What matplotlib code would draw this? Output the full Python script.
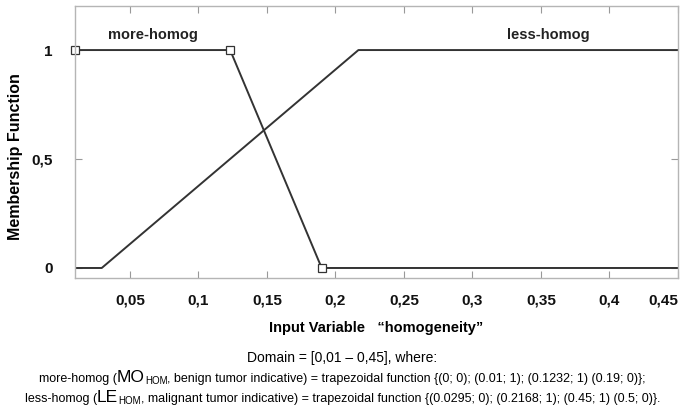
import matplotlib
matplotlib.use('Agg')
import matplotlib.pyplot as plt

# membership functions (x, mu)
more_x = [0.01, 0.1232, 0.19, 0.45]
more_y = [1, 1, 0, 0]
more_mark_x = [0.01, 0.1232, 0.19]
more_mark_y = [1, 1, 0]

less_x = [0.01, 0.0295, 0.2168, 0.45]
less_y = [0, 0, 1, 1]

xticks = [0.05, 0.1, 0.15, 0.2, 0.25, 0.3, 0.35, 0.4, 0.45]
xtick_labels = ['0,05', '0,1', '0,15', '0,2', '0,25', '0,3', '0,35', '0,4', '0,45']
yticks = [0, 0.5, 1]
ytick_labels = ['0', '0,5', '1']

plt.rcParams['font.family'] = ['Liberation Sans', 'DejaVu Sans']

fig = plt.figure(figsize=(6.85, 4.16), dpi=100)
ax = fig.add_axes([0.1095, 0.3317, 0.8803, 0.6538])

lc = '#333333'
ax.plot(more_x, more_y, color=lc, lw=1.4)
ax.plot(less_x, less_y, color=lc, lw=1.4)
ax.plot(more_mark_x, more_mark_y, ls='none', marker='s', ms=6,
        mfc='white', mec=lc, mew=0.9, clip_on=False)

ax.set_xlim(0.01, 0.45)
ax.set_ylim(-0.046, 1.202)

ax.set_xticks(xticks)
ax.set_xticklabels(xtick_labels, fontsize=11, fontweight='bold', color='#111111')
ax.get_xticklabels()[-1].set_horizontalalignment('right')
ax.set_yticks(yticks)
ax.set_yticklabels(ytick_labels, fontsize=11, fontweight='bold', color='#111111')
ax.tick_params(direction='in', length=5, color='#999999', width=0.8,
               top=True, right=True)
ax.tick_params(axis='x', pad=11)
ax.tick_params(axis='y', pad=16)

for s in ax.spines.values():
    s.set_color('#b5b5b5')
    s.set_linewidth(1)

ax.text(0.067, 1.07, 'more-homog', ha='center', va='center',
        fontsize=10.5, fontweight='bold', color='#222222')
ax.text(0.355, 1.07, 'less-homog', ha='center', va='center',
        fontsize=10.5, fontweight='bold', color='#222222')

ax.set_ylabel('Membership Function', fontsize=11.5, fontweight='bold')
ax.yaxis.set_label_coords(-0.086, 0.447)
ax.set_xlabel('Input Variable   \u201chomogeneity\u201d', fontsize=10.5,
              fontweight='bold', labelpad=10)

# caption below the chart
cap_size = 9
fig.text(0.5, 1 - 362 / 416, 'Domain = [0,01 \u2013 0,45], where:',
         ha='center', va='baseline', fontsize=10)

line2 = [('more-homog (', cap_size, 0), ('MO', 12.5, 0), ('HOM', 7, -1.5),
         (', benign tumor indicative) = trapezoidal function '
          '{(0; 0); (0.01; 1); (0.1232; 1) (0.19; 0)};', cap_size, 0)]
line3 = [('less-homog (', cap_size, 0), ('LE', 12.5, 0), ('HOM', 7, -1.5),
         (', malignant tumor indicative) = trapezoidal function '
          '{(0.0295; 0); (0.2168; 1); (0.45; 1) (0.5; 0)}.', cap_size, 0)]

lines = []
for parts, ypix in [(line2, 382), (line3, 402)]:
    items = []
    for txt, size, dy in parts:
        t = fig.text(0, 1 - (ypix - dy) / 416, txt, fontsize=size,
                     ha='left', va='baseline')
        items.append(t)
    lines.append(items)

fig.canvas.draw()
r = fig.canvas.get_renderer()
W = fig.bbox.width
for items in lines:
    widths = [t.get_window_extent(r).width for t in items]
    total = sum(widths)
    x0 = (W - total) / 2
    for t, w in zip(items, widths):
        t.set_x(x0 / W)
        x0 += w

fig.savefig('out.png', dpi=100)
